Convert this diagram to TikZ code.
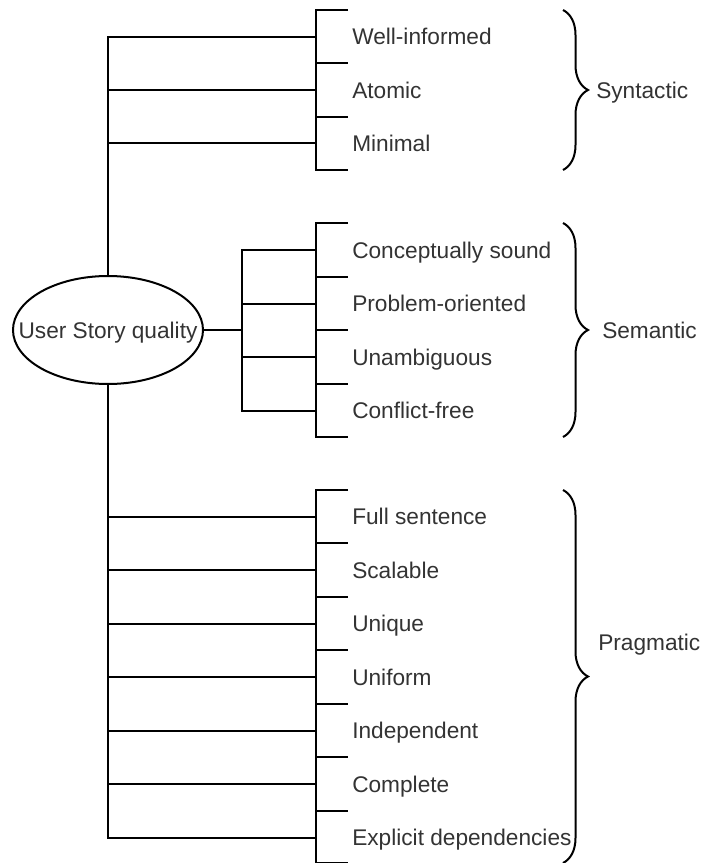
\documentclass[tikz,border=0pt]{standalone}
\usepackage{fontspec}
\setmainfont{Liberation Sans}
\usetikzlibrary{shapes.geometric,decorations.pathreplacing}
\definecolor{txt}{HTML}{333333}

\begin{document}
\begin{tikzpicture}[x=0.75pt,y=-0.75pt,
  line/.style={line width=1.5pt, draw=black},
  lbl/.style={font=\fontsize{17pt}{20pt}\selectfont, text=txt, text height=12.2pt, text depth=0pt},
  item/.style={lbl, anchor=west, inner xsep=27pt, inner ysep=0pt},
  grp/.style={lbl, anchor=west, inner sep=0pt},
  curly/.style={line width=1.5pt, decorate, decoration={brace, amplitude=18.75pt}},
]
\useasboundingbox (0,0) rectangle (702,863);

% central ellipse
\node[ellipse, draw, line width=1.5pt, minimum width=142.5pt, minimum height=81pt, inner sep=0pt,
      label={[lbl]center:User Story quality}] (usq) at (108,330) {};
\coordinate (sj) at (242,330);

% syntactic criteria
\node[item] (wi) at (316,36.7)  {Well-informed};
\node[item] (at) at (316,90)    {Atomic};
\node[item] (mi) at (316,143.3) {Minimal};
\draw[line] (348,10) -| (316,170) -- (348,170);
\foreach \y in {63.3,116.7} \draw[line] (316,\y) -- (348,\y);

% semantic criteria
\node[item] (cs) at (316,250)   {Conceptually sound};
\node[item] (po) at (316,303.5) {Problem-oriented};
\node[item] (un) at (316,357)   {Unambiguous};
\node[item] (cf) at (316,410.5) {Conflict-free};
\draw[line] (348,223) -| (316,437) -- (348,437);
\foreach \y in {276.5,330,383.5} \draw[line] (316,\y) -- (348,\y);

% pragmatic criteria
\node[item] (fs) at (316,516.5) {Full sentence};
\node[item] (sc) at (316,570)   {Scalable};
\node[item] (uq) at (316,623.5) {Unique};
\node[item] (uf) at (316,677)   {Uniform};
\node[item] (id) at (316,730.5) {Independent};
\node[item] (cp) at (316,784)   {Complete};
\node[item] (ed) at (316,837.5) {Explicit dependencies};
\draw[line] (348,490) -| (316,863) -- (348,863);
\foreach \y in {543,597,650,704,757,811} \draw[line] (316,\y) -- (348,\y);

% connectors
\foreach \n in {wi,at,mi} \draw[line] (usq.north) |- (\n.west);
\draw[line] (usq.east) -- (sj);
\foreach \n in {cs,po,un,cf} \draw[line] (sj) |- (\n.west);
\foreach \n in {fs,sc,uq,uf,id,cp,ed} \draw[line] (usq.south) |- (\n.west);

% group braces
\coordinate (b1a) at (563,10);  \coordinate (b1b) at (563,170);
\coordinate (b2a) at (563,223); \coordinate (b2b) at (563,437);
\coordinate (b3a) at (563,490); \coordinate (b3b) at (563,863);
\draw[curly] (b1a) -- (b1b);
\draw[curly] (b2a) -- (b2b);
\draw[curly] (b3a) -- (b3b);
\node[grp] (syn) at (596,90)  {Syntactic};
\node[grp] (sem) at (602,330) {Semantic};
\node[grp] (pra) at (598,642) {Pragmatic};
\end{tikzpicture}
\end{document}
